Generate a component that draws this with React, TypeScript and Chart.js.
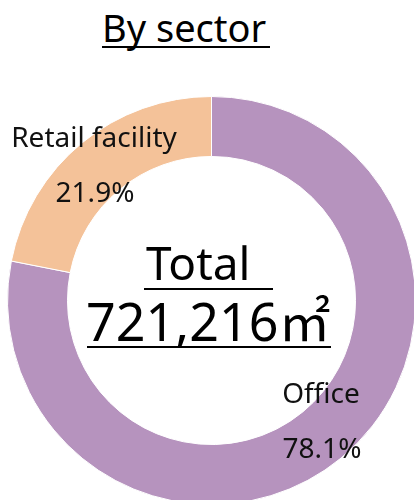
import React, { useEffect, useRef } from "react";
import { Chart, registerables } from "chart.js";

Chart.register(...registerables);

const categories = ["Office", "Retail facility"];
const shares = [78.1, 21.9];
const colors = ["#B693BE", "#F4C299"];
const titleText = "By sector";
const totalLabel = "Total";
const totalValue = "721,216㎡";

const FONT = '"Noto Sans", "Noto Sans CJK JP", sans-serif';

// per-slice label nudges relative to arc centroid [dx, dy]
const labelNudge = [
  [-1, -4],
  [-7, 9],
];

const sliceLabels = {
  id: "sliceLabels",
  afterDatasetsDraw(chart: any) {
    const ctx = chart.ctx;
    const meta = chart.getDatasetMeta(0);
    ctx.save();
    ctx.fillStyle = "#111";
    ctx.font = `28px ${FONT}`;
    ctx.textAlign = "center";
    ctx.textBaseline = "alphabetic";
    meta.data.forEach((arc: any, i: number) => {
      const p = arc.getCenterPoint();
      const [dx, dy] = labelNudge[i];
      const x = p.x + dx;
      const y = p.y + dy;
      ctx.fillText(String(chart.data.labels[i]), x, y - 28);
      ctx.fillText(shares[i].toFixed(1) + "%", x + 1, y + 27);
    });
    ctx.restore();
  },
};

export default function App() {
  const ref = useRef<HTMLCanvasElement>(null);
  useEffect(() => {
    if (!ref.current) return;
    const chart = new Chart(ref.current, {
      type: "doughnut",
      data: {
        labels: categories,
        datasets: [
          {
            data: shares,
            backgroundColor: colors,
            borderColor: "#ffffff",
            borderWidth: 1,
          },
        ],
      },
      options: {
        responsive: false,
        animation: false,
        cutout: "70.6%",
        layout: { padding: 0 },
        plugins: {
          legend: { display: false },
          tooltip: { enabled: false },
          title: { display: false },
        },
      },
      plugins: [sliceLabels],
    });
    return () => chart.destroy();
  }, []);

  const abs: React.CSSProperties = {
    position: "absolute",
    whiteSpace: "pre",
    lineHeight: 1,
    fontFamily: FONT,
    color: "#000",
    margin: 0,
  };

  return (
    <div
      style={{
        position: "fixed",
        left: 0,
        top: 0,
        width: 414,
        height: 500,
        overflow: "hidden",
        background: "#fff",
      }}
    >
      <canvas
        ref={ref}
        width={409}
        height={409}
        style={{ position: "absolute", left: 7, top: 96, width: 409, height: 409 }}
      />
      <div style={{ ...abs, left: 102, top: 8.3, fontSize: 38 }}>{titleText}</div>
      <div style={{ position: "absolute", left: 102, top: 46, width: 168, height: 2, background: "#000" }} />
      <div style={{ ...abs, left: 146, top: 239.2, fontSize: 46 }}>{totalLabel}</div>
      <div style={{ position: "absolute", left: 144, top: 288, width: 129, height: 2, background: "#000" }} />
      <div style={{ ...abs, left: 86, top: 294.8, fontSize: 52 }}>{totalValue}</div>
      <div style={{ position: "absolute", left: 87, top: 346, width: 244, height: 2, background: "#000" }} />
    </div>
  );
}
